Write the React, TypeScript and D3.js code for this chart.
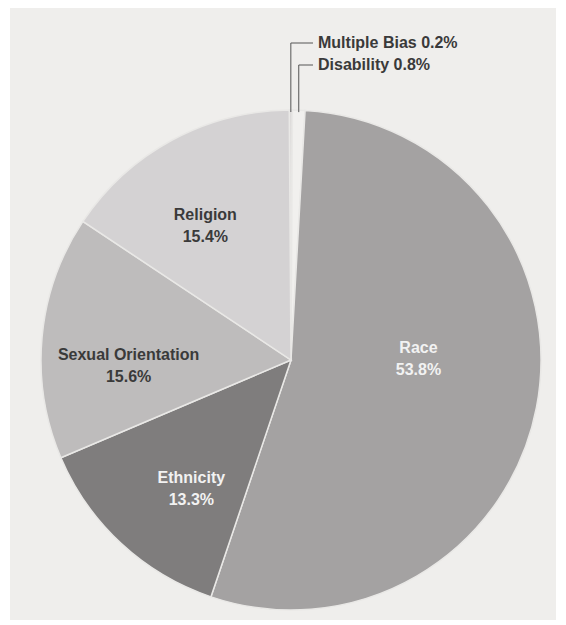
import React from "react";
import * as d3 from "d3";

const categories = ["Multiple Bias", "Disability", "Race", "Ethnicity", "Sexual Orientation", "Religion"];
const values = [0.2, 0.8, 53.8, 13.3, 15.6, 15.4];
const valueLabels = ["0.2%", "0.8%", "53.8%", "13.3%", "15.6%", "15.4%"];

const W = 566;
const H = 625;
const CX = 291;
const CY = 360;
const R = 250;

const fills: Record<string, string> = {
  "Multiple Bias": "#dcdad9",
  Disability: "#f1f0ee",
  Race: "#a4a2a2",
  Ethnicity: "#7f7d7d",
  "Sexual Orientation": "#bebcbc",
  Religion: "#d4d2d3",
};
const textFill: Record<string, string> = {
  Race: "#f2f2f2",
  Ethnicity: "#f2f2f2",
  "Sexual Orientation": "#3a3a3a",
  Religion: "#3a3a3a",
};
// label placement: radius factor and angular nudge (degrees)
const labelCfg: Record<string, [number, number]> = {
  Race: [0.51, -12],
  Ethnicity: [0.65, -5],
  "Sexual Orientation": [0.65, -7],
  Religion: [0.64, -4],
};
const outsideCfg: Record<string, number> = { "Multiple Bias": 44, Disability: 66 };

export default function App() {
  const data = categories.map((c, i) => ({ name: c, value: values[i], label: valueLabels[i] }));
  const start = (-0.4 * Math.PI) / 180;
  const pie = d3
    .pie<any>()
    .value((d) => d.value)
    .sort(null)
    .startAngle(start)
    .endAngle(start + 2 * Math.PI);
  const arcs = pie(data);
  const arc = d3.arc<any>().innerRadius(0).outerRadius(R);

  const font = "'Liberation Sans', Arial, sans-serif";

  return (
    <svg width={W} height={H} style={{ position: "absolute", left: 0, top: 0 }}>
      <rect x={0} y={0} width={W} height={H} fill="#ffffff" />
      <rect x={10} y={8} width={546} height={612} fill="#efeeec" />
      <g transform={`translate(${CX},${CY})`}>
        {arcs.map((a) => (
          <path key={a.data.name} d={arc(a) as string} fill={fills[a.data.name]} stroke="#e9e8e6" strokeWidth={1.5} />
        ))}
        {arcs
          .filter((a) => labelCfg[a.data.name])
          .map((a) => {
            const [rf, nudge] = labelCfg[a.data.name];
            const mid = (a.startAngle + a.endAngle) / 2 + (nudge * Math.PI) / 180;
            const r = rf * R;
            const x = r * Math.sin(mid);
            const y = -r * Math.cos(mid);
            return (
              <text
                key={a.data.name}
                x={x}
                y={y}
                textAnchor="middle"
                fontFamily={font}
                fontWeight="bold"
                fontSize={16}
                fill={textFill[a.data.name]}
              >
                <tspan x={x} dy={-5}>{a.data.name}</tspan>
                <tspan x={x} dy={22}>{a.data.label}</tspan>
              </text>
            );
          })}
        {arcs
          .filter((a) => outsideCfg[a.data.name] !== undefined)
          .map((a) => {
            const mid = (a.startAngle + a.endAngle) / 2;
            const x0 = R * Math.sin(mid);
            const y0 = -R * Math.cos(mid);
            const yTop = outsideCfg[a.data.name] - CY - 1;
            const xEnd = 313 - CX;
            return (
              <g key={a.data.name}>
                <path
                  d={`M${x0},${y0 + 2}V${yTop}H${xEnd}`}
                  fill="none"
                  stroke="#555"
                  strokeWidth={1}
                />
                <text
                  x={xEnd + 5}
                  y={yTop + 5}
                  fontFamily={font}
                  fontWeight="bold"
                  fontSize={16}
                  fill="#3a3a3a"
                >
                  {`${a.data.name} ${a.data.label}`}
                </text>
              </g>
            );
          })}
      </g>
    </svg>
  );
}
